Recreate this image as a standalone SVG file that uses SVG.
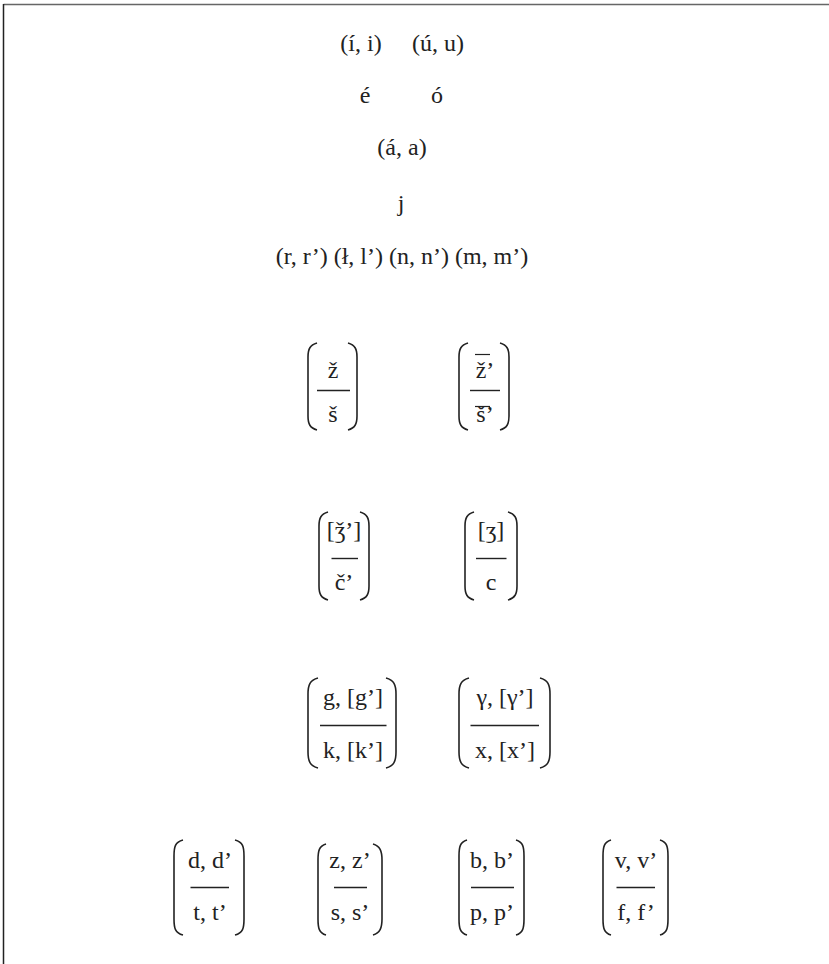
<svg xmlns="http://www.w3.org/2000/svg" width="829" height="964" viewBox="0 0 829 964">
<style>
  text { font-family: 'Liberation Serif', 'Times New Roman', Times, serif; font-size: 24px; fill: #222; text-anchor: middle; }
  .br { fill: none; stroke: #222; stroke-width: 1.6; }
  .fr { stroke: #222; stroke-width: 1.4; }
  .ov { stroke: #222; stroke-width: 1.2; }
  .frame { stroke: #444; stroke-width: 1.5; fill: none; }
</style>
<rect width="829" height="964" fill="#fff"/>
<g id="frame">
  <line class="frame" x1="3.5" y1="4.5" x2="829" y2="4.5" style="stroke:#666"/>
  <line class="frame" x1="3.5" y1="4" x2="3.5" y2="964" style="stroke:#222"/>
</g>
<g font-family="'Liberation Serif', 'Times New Roman', Times, serif">
<g id="vowels">
  <text x="361" y="51">(í, i)</text>
  <text x="438" y="51">(ú, u)</text>
  <text x="365" y="103">é</text>
  <text x="437" y="103">ó</text>
  <text x="402" y="155">(á, a)</text>
  <text x="401" y="211">j</text>
  <text x="402" y="264">(r, r’) (ł, l’) (n, n’) (m, m’)</text>
</g>
<g id="connectors"></g>
<g id="zh-sh">
  <path class="br" d="M317,343 C310,345 308,349 308,357 L308,416 C308,424 310,428 317,430"/>
  <path class="br" d="M348,343 C355,345 357,349 357,357 L357,416 C357,424 355,428 348,430"/>
  <text x="333" y="378">ž</text>
  <line class="fr" x1="317" y1="390.5" x2="350" y2="390.5"/>
  <text x="333" y="422">š</text>
</g>
<g id="zh-sh-soft">
  <path class="br" d="M468,343 C461,345 459,349 459,357 L459,416 C459,424 461,428 468,430"/>
  <path class="br" d="M500,343 C507,345 509,349 509,357 L509,416 C509,424 507,428 500,430"/>
  <text x="485" y="378">ž’</text>
  <line class="ov" x1="475" y1="354.5" x2="490" y2="354.5"/>
  <line class="fr" x1="470" y1="390.5" x2="500" y2="390.5"/>
  <text x="485" y="422">š’</text>
  <line class="ov" x1="475" y1="406.5" x2="490" y2="406.5"/>
</g>
<g id="dzh-ch">
  <path class="br" d="M328,512 C321,514 319,518 319,526 L319,586 C319,594 321,598 328,600"/>
  <path class="br" d="M360,512 C367,514 369,518 369,526 L369,586 C369,594 367,598 360,600"/>
  <text x="344" y="538">[ǯ’]</text>
  <line class="fr" x1="331.5" y1="558.5" x2="358" y2="558.5"/>
  <text x="344" y="590">č’</text>
</g>
<g id="dz-c">
  <path class="br" d="M474,512 C467,514 465,518 465,526 L465,586 C465,594 467,598 474,600"/>
  <path class="br" d="M508,512 C515,514 517,518 517,526 L517,586 C517,594 515,598 508,600"/>
  <text x="491" y="538">[ʒ]</text>
  <line class="fr" x1="476" y1="558.5" x2="506.5" y2="558.5"/>
  <text x="491" y="590">c</text>
</g>
<g id="g-k">
  <path class="br" d="M318,678 C310,680 308,685 308,694 L308,752 C308,761 310,766 318,768"/>
  <path class="br" d="M386,678 C394,680 396,685 396,694 L396,752 C396,761 394,766 386,768"/>
  <text x="353" y="705">g, [g’]</text>
  <line class="fr" x1="320" y1="725.5" x2="386.5" y2="725.5"/>
  <text x="353" y="758">k, [k’]</text>
</g>
<g id="gamma-x">
  <path class="br" d="M469,678 C461,680 459,685 459,694 L459,752 C459,761 461,766 469,768"/>
  <path class="br" d="M540,678 C548,680 550,685 550,694 L550,752 C550,761 548,766 540,768"/>
  <text x="505" y="705">γ, [γ’]</text>
  <line class="fr" x1="470.5" y1="725.5" x2="539" y2="725.5"/>
  <text x="505" y="758">x, [x’]</text>
</g>
<g id="d-t">
  <path class="br" d="M183,840 C175,842 174,847 174,856 L174,919 C174,928 175,933 183,935"/>
  <path class="br" d="M235,840 C243,842 244,847 244,856 L244,919 C244,928 243,933 235,935"/>
  <text x="210" y="868">d, d’</text>
  <line class="fr" x1="190.5" y1="887.5" x2="229" y2="887.5"/>
  <text x="210" y="920">t, t’</text>
</g>
<g id="z-s">
  <path class="br" d="M326,844 C319,846 318,851 318,860 L318,919 C318,928 319,933 326,935"/>
  <path class="br" d="M373,844 C380,846 382,851 382,860 L382,919 C382,928 380,933 373,935"/>
  <text x="350" y="868">z, z’</text>
  <line class="fr" x1="334" y1="887.5" x2="367" y2="887.5"/>
  <text x="350" y="920">s, s’</text>
</g>
<g id="b-p">
  <path class="br" d="M467,840 C460,842 459,847 459,856 L459,919 C459,928 460,933 467,935"/>
  <path class="br" d="M516,840 C523,842 524,847 524,856 L524,919 C524,928 523,933 516,935"/>
  <text x="492" y="868">b, b’</text>
  <line class="fr" x1="471" y1="887.5" x2="514" y2="887.5"/>
  <text x="492" y="920">p, p’</text>
</g>
<g id="v-f">
  <path class="br" d="M611,840 C604,842 603,847 603,856 L603,919 C603,928 604,933 611,935"/>
  <path class="br" d="M660,840 C667,842 668,847 668,856 L668,919 C668,928 667,933 660,935"/>
  <text x="636" y="868">v, v’</text>
  <line class="fr" x1="616.5" y1="887.5" x2="655" y2="887.5"/>
  <text x="636" y="920">f, f’</text>
</g>
</g>
</svg>
